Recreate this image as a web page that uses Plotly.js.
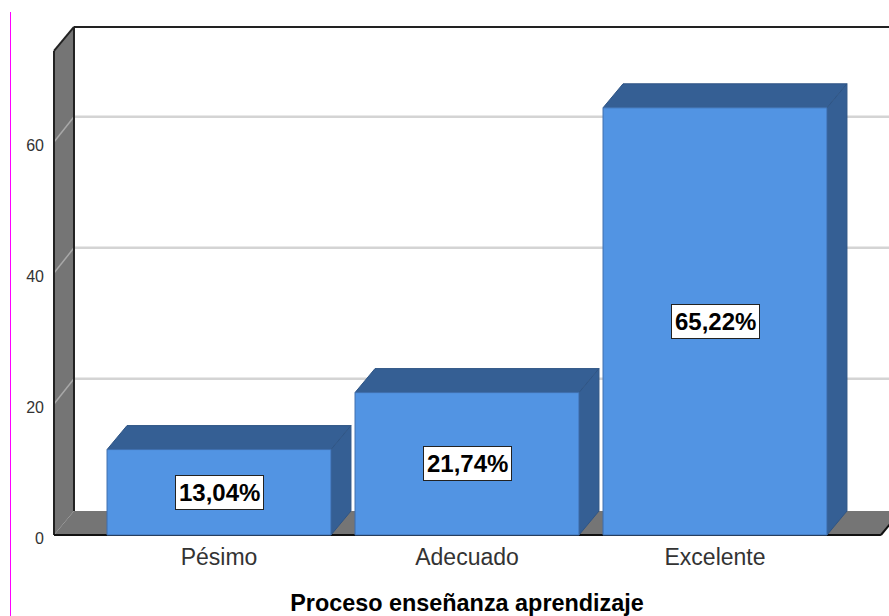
<!DOCTYPE html>
<html>
<head>
<meta charset="utf-8">
<script src="https://cdn.plot.ly/plotly-3.0.1.min.js"></script>
<style>html,body{margin:0;padding:0;background:#fff}#chart{width:889px;height:616px}</style>
</head>
<body>
<div id="chart"></div>
<script>
const categories = ["Pésimo", "Adecuado", "Excelente"];
const percentages = [13.04, 21.74, 65.22];
const yTicks = [0, 20, 40, 60];

// Oblique projection: depth expressed in axis units
const barWidth = 0.903, depthX = 0.0806, depthY = 3.664, gridDepthY = 3.85;
const wallLeft = -0.6653, wallRight = 2.669, wallTop = 73.9;
const colFront = "#5294E3", colDepth = "#355F94", colWall = "#757575";

const poly = (pts, fill, line, w) => ({
  type: "path", xref: "x", yref: "y", layer: "below",
  path: "M" + pts.map(p => p[0] + "," + p[1]).join(" L") + " Z",
  fillcolor: fill, line: {color: line, width: line ? w : 0}
});
const seg = (x0, y0, x1, y1, color, width) => ({
  type: "line", xref: "x", yref: "y", layer: "below", x0, y0, x1, y1, line: {color, width}
});

const shapes = [];
// floor and left wall
shapes.push(poly([[wallLeft,0],[wallLeft+depthX,depthY],[wallRight+depthX,depthY],[wallRight,0]], colWall, null, 0));
shapes.push(poly([[wallLeft,0],[wallLeft+depthX,depthY],[wallLeft+depthX,wallTop+depthY],[wallLeft,wallTop]], colWall, null, 0));
// grid on back wall and on left wall
yTicks.slice(1).forEach(t => {
  shapes.push(seg(wallLeft+depthX, t+gridDepthY, wallRight+depthX, t+gridDepthY, "#d4d4d4", 2.5));
  shapes.push(seg(wallLeft, t, wallLeft+depthX, t+gridDepthY, "#a8a8a8", 1.5));
});
// frame
shapes.push(seg(wallLeft+depthX, depthY, wallLeft+depthX, wallTop+depthY, "#222", 2));
shapes.push(seg(wallLeft+depthX, wallTop+depthY, wallRight+depthX, wallTop+depthY, "#222", 2));
shapes.push(seg(wallLeft, 0, wallLeft, wallTop, "#222", 2));
shapes.push(seg(wallLeft, wallTop, wallLeft+depthX, wallTop+depthY, "#222", 2));
shapes.push(seg(wallLeft, 0, wallRight, 0, "#111", 2));
shapes.push(seg(wallRight, 0, wallRight+depthX, depthY, "#111", 2));
// bar top and side faces
percentages.forEach((v, i) => {
  const l = i - barWidth/2, r = i + barWidth/2;
  shapes.push(poly([[l,v],[l+depthX,v+depthY],[r+depthX,v+depthY],[r,v]], colDepth, "#2f5585", 1));
  shapes.push(poly([[r,0],[r+depthX,depthY],[r+depthX,v+depthY],[r,v]], colDepth, "#2f5585", 1));
});
// magenta page rule
shapes.push({type:"line", xref:"paper", yref:"paper", layer:"above",
  x0:(10.5-45)/844, x1:(10.5-45)/844, y0:-76/530, y1:(616-76-12)/530,
  line:{color:"#ff00ff", width:1}});

const annotations = percentages.map((v, i) => ({
  x: i, y: v/2, xref: "x", yref: "y", showarrow: false,
  text: "<b>" + v.toFixed(2).replace(".", ",") + "%</b>",
  font: {family: "Liberation Sans, Arial, sans-serif", size: 24, color: "#000"},
  bgcolor: "#fff", bordercolor: "#222", borderwidth: 1, borderpad: 3, xanchor: "center", yanchor: "middle"
}));

Plotly.newPlot("chart", [{
  type: "bar",
  x: categories.map((c, i) => i),
  y: percentages,
  width: barWidth,
  marker: {color: colFront, line: {color: "#3f6fae", width: 1}},
  hoverinfo: "skip"
}], {
  width: 889, height: 616,
  margin: {l: 45, r: 0, t: 10, b: 76, pad: 0},
  paper_bgcolor: "#fff", plot_bgcolor: "#fff",
  showlegend: false,
  font: {family: "Liberation Sans, Arial, sans-serif"},
  xaxis: {
    type: "linear", range: [-0.7016, 2.7016],
    tickmode: "array", tickvals: categories.map((c, i) => i), ticktext: categories,
    tickfont: {size: 23, color: "#333"}, ticks: "", showgrid: false, zeroline: false, showline: false,
    ticklabelstandoff: 1,
    title: {text: "<b>Proceso enseñanza aprendizaje</b>", font: {size: 23.4, color: "#000"}, standoff: 25}
  },
  yaxis: {
    range: [-0.763, 80.15],
    tickmode: "array", tickvals: yTicks, ticktext: yTicks.map(String),
    ticklabelshift: 3,
    tickfont: {size: 16, color: "#333"}, ticks: "", showgrid: false, zeroline: false, showline: false
  },
  shapes, annotations
}, {displayModeBar: false, staticPlot: true});
</script>
</body>
</html>
